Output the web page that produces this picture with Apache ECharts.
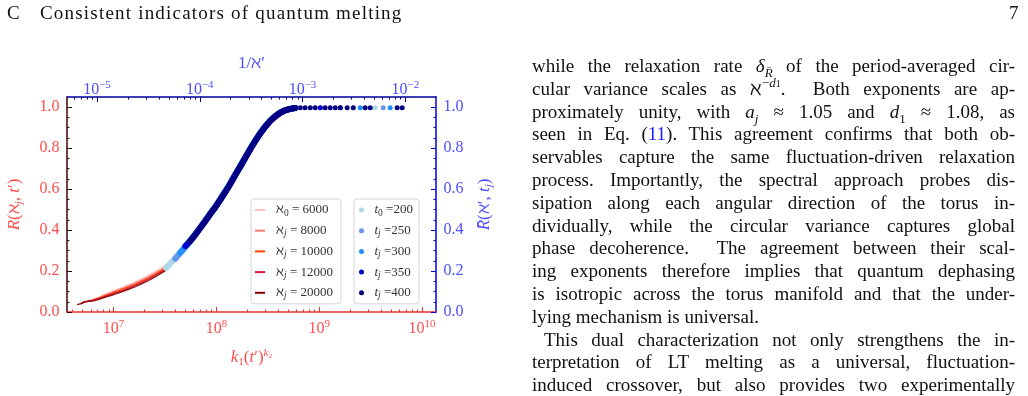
<!DOCTYPE html>
<html>
<head>
<meta charset="utf-8">
<script src="https://cdn.jsdelivr.net/npm/echarts@6/dist/echarts.min.js"></script>
<style>
html,body{margin:0;padding:0;background:#fff;}
#main{position:absolute;left:0;top:0;width:1028px;height:396px;}
.pg{position:absolute;font-family:"Liberation Serif",serif;font-size:19px;color:#111;line-height:23px;white-space:nowrap;}
.txt{position:absolute;left:532px;top:55px;width:483px;font-family:"Liberation Serif",serif;font-size:19px;color:#111;line-height:22.8px;}
.txt div{text-align:justify;text-align-last:justify;height:22.8px;}
.txt div.last{text-align-last:left;}
.txt sub,.txt sup{font-size:13px;line-height:0;}
</style>
</head>
<body>
<div id="main"></div>
<div class="pg" style="left:7px;top:1px;">C</div>
<div class="pg" style="left:40px;top:1px;letter-spacing:1.2px;">Consistent indicators of quantum melting</div>
<div class="pg" style="left:1009px;top:1px;">7</div>
<div class="txt">
<div>while the relaxation rate <i>δ</i><sub><i>R̄</i></sub> of the period-averaged cir-</div>
<div>cular variance scales as ℵ<sup>−<i>d</i><span style="font-size:10px">1</span></sup>.&nbsp; Both exponents are ap-</div>
<div>proximately unity, with <i>a<sub>j</sub></i> ≈ 1.05 and <i>d</i><sub>1</sub> ≈ 1.08, as</div>
<div>seen in Eq. (<span style="color:#1a1aff">11</span>). This agreement confirms that both ob-</div>
<div>servables capture the same fluctuation-driven relaxation</div>
<div>process. Importantly, the spectral approach probes dis-</div>
<div>sipation along each angular direction of the torus in-</div>
<div>dividually, while the circular variance captures global</div>
<div>phase decoherence.&nbsp; The agreement between their scal-</div>
<div>ing exponents therefore implies that quantum dephasing</div>
<div>is isotropic across the torus manifold and that the under-</div>
<div class="last">lying mechanism is universal.</div>
<div style="padding-left:12px">This dual characterization not only strengthens the in-</div>
<div>terpretation of LT melting as a universal, fluctuation-</div>
<div>induced crossover, but also provides two experimentally</div>
</div>
<script>
// axis ranges (log10 units) and tick labels
const bottomMin = 6.547, bottomMax = 10.136;
const topMin = -5.292, topMax = -1.701;
const bottomTicks = [7, 8, 9, 10];
const topTicks = [-5, -4, -3, -2];
const yTicks = [0, 0.2, 0.4, 0.6, 0.8, 1.0];
const yMinorTicks = [0.05,0.1,0.15,0.25,0.3,0.35,0.45,0.5,0.55,0.65,0.7,0.75,0.85,0.9,0.95];

// red curves: R(aleph_j, t') against k1 (t')^k2
const alephSub = ['0', 'j', 'j', 'j', 'j'];
const alephVals = [6000, 8000, 10000, 12000, 20000];
const kx6000 = [7.6e6, 8.5e6, 9.6e6, 1.09e7, 1.24e7, 1.42e7, 1.63e7, 1.87e7, 2.15e7, 2.48e7, 2.86e7, 3.3e7];
const r6000 = [0.079,0.089,0.100,0.111,0.122,0.134,0.148,0.162,0.178,0.195,0.213,0.232];
const kx8000 = [6.2e6, 6.8e6, 7.6e6, 8.5e6, 9.6e6, 1.09e7, 1.24e7, 1.42e7, 1.63e7, 1.87e7, 2.15e7, 2.48e7, 2.86e7, 3.3e7];
const r8000 = [0.059,0.066,0.075,0.085,0.095,0.106,0.116,0.128,0.141,0.155,0.170,0.187,0.205,0.225];
const kx10000 = [5.7e6, 6.2e6, 6.8e6, 7.6e6, 8.5e6, 9.6e6, 1.09e7, 1.24e7, 1.42e7, 1.63e7, 1.87e7, 2.15e7, 2.48e7, 2.86e7, 3.3e7];
const r10000 = [0.055,0.058,0.064,0.072,0.082,0.091,0.102,0.112,0.123,0.136,0.150,0.164,0.181,0.199,0.219];
const kx12000 = [4.8e6, 5.2e6, 5.7e6, 6.2e6, 6.8e6, 7.6e6, 8.5e6, 9.6e6, 1.09e7, 1.24e7, 1.42e7, 1.63e7, 1.87e7, 2.15e7, 2.48e7, 2.86e7, 3.3e7];
const r12000 = [0.041,0.050,0.053,0.056,0.061,0.069,0.078,0.087,0.097,0.107,0.118,0.131,0.145,0.159,0.176,0.194,0.214];
const kx20000 = [4.4e6, 4.8e6, 5.2e6, 5.7e6, 6.2e6, 6.8e6, 7.6e6, 8.5e6, 9.6e6, 1.09e7, 1.24e7, 1.42e7, 1.63e7, 1.87e7, 2.15e7, 2.48e7, 2.86e7, 3.3e7];
const r20000 = [0.036,0.040,0.049,0.052,0.054,0.058,0.066,0.074,0.082,0.092,0.101,0.112,0.124,0.138,0.152,0.169,0.187,0.207];

// blue points: Rbar(aleph', t_j) against 1/aleph'
const tSub = ['0', 'j', 'j', 'j', 'j'];
const tVals = [200, 250, 300, 350, 400];
const invAleph = [4.72e-5, 5.16e-5, 5.78e-5, 6.46e-5, 7.23e-5, 8.09e-5, 9.04e-5, 1.01e-4, 1.13e-4, 1.26e-4, 1.42e-4, 1.58e-4, 1.77e-4, 1.98e-4, 2.21e-4, 2.48e-4, 2.77e-4, 3.10e-4, 3.47e-4, 3.88e-4, 4.34e-4, 4.85e-4, 5.42e-4, 6.07e-4, 6.79e-4, 7.59e-4, 8.49e-4];
const rbar200 = [0.215,0.237,0.264,0.293,0.322,0.352,0.383,0.415,0.449,0.483,0.518,0.553,0.591,0.631,0.674,0.716,0.758,0.801,0.841,0.877,0.909,0.937,0.958,0.975,0.986,0.993,0.997];
const rbar250 = [null,null,0.260,0.288,0.316,0.346,0.378,0.411,0.445,0.480,0.515,0.551,0.590,0.630,0.672,0.714,0.757,0.799,0.839,0.876,0.908,0.936,0.957,0.974,0.986,0.992,0.996];
const rbar300 = [null,null,null,0.290,0.318,0.347,0.378,0.410,0.444,0.478,0.513,0.548,0.587,0.627,0.669,0.711,0.753,0.796,0.836,0.873,0.906,0.934,0.956,0.973,0.985,0.992,0.996];
const rbar350 = [null,null,null,null,0.322,0.347,0.378,0.410,0.443,0.477,0.512,0.547,0.585,0.625,0.668,0.710,0.752,0.795,0.835,0.872,0.905,0.933,0.955,0.973,0.985,0.992,0.996];
const rbar400 = [null,null,null,null,null,0.347,0.378,0.410,0.443,0.477,0.512,0.547,0.585,0.625,0.668,0.710,0.752,0.795,0.835,0.872,0.905,0.933,0.955,0.973,0.985,0.992,0.996];
// plateau dots
const dotX200 = [1.49e-3, 5.10e-3];
const dotR200 = [0.998, 0.998];
const dotX250 = [6.10e-3];
const dotR250 = [0.998];
const dotX300 = [3.64e-3, 7.13e-3];
const dotR300 = [0.998, 0.998];
const dotX350 = [1.49e-3, 2.33e-3];
const dotR350 = [0.998, 0.998];
const dotX400 = [9.50e-4, 1.06e-3, 1.19e-3, 1.33e-3, 1.66e-3, 1.86e-3, 2.08e-3, 2.33e-3, 2.72e-3, 3.12e-3, 4.07e-3, 4.56e-3, 8.34e-3, 9.33e-3];
const dotR400 = [0.997, 0.998, 0.998, 0.998, 0.998, 0.998, 0.998, 0.998, 0.998, 0.998, 0.998, 0.998, 0.998, 0.998];

const serif = 'Liberation Serif';
const red = '#ff4d4d', blue = '#4d4dff';
const redColors = ['#ffc0c4', '#fa8072', '#ff4500', '#dc143c', '#8b0000'];
const blueColors = ['#add8e6', '#6495ed', '#1e90ff', '#0000cd', '#000080'];

function pairs(xs, ys) {
  const out = [];
  for (let i = 0; i < xs.length; i++) {
    if (ys[i] != null) out.push([Math.log10(xs[i]), ys[i]]);
  }
  return out;
}

function minorLog(lo, hi) {
  const v = [];
  for (let n = Math.floor(lo); n <= Math.ceil(hi); n++) {
    for (let k = 2; k <= 9; k++) {
      const l = n + Math.log10(k);
      if (l > lo && l < hi) v.push(l);
    }
  }
  return v;
}

function powRich(color) {
  return {
    b: {fontFamily: serif, fontSize: 16, lineHeight: 20, color: color},
    s: {fontFamily: serif, fontSize: 11, lineHeight: 11, verticalAlign: 'top', color: color}
  };
}

const redNames = alephVals.map((v, i) => 'ℵ_' + alephSub[i] + ' = ' + v);
const blueNames = tVals.map((v, i) => 't_' + tSub[i] + ' =' + v);
const redX = [kx6000, kx8000, kx10000, kx12000, kx20000];
const redR = [r6000, r8000, r10000, r12000, r20000];
const blueR = [rbar200, rbar250, rbar300, rbar350, rbar400];
const dotXs = [dotX200, dotX250, dotX300, dotX350, dotX400];
const dotRs = [dotR200, dotR250, dotR300, dotR350, dotR400];

const series = [];
redNames.forEach((name, i) => {
  series.push({
    name: name, type: 'line', xAxisIndex: 0, yAxisIndex: 0,
    showSymbol: false, silent: true,
    lineStyle: {color: redColors[i], width: 1.5, opacity: 0.9},
    itemStyle: {color: redColors[i]},
    data: pairs(redX[i], redR[i])
  });
});
blueNames.forEach((name, i) => {
  series.push({
    name: name, type: 'line', xAxisIndex: 1, yAxisIndex: 1,
    showSymbol: false, silent: true,
    lineStyle: {color: blueColors[i], width: 6, cap: 'round', join: 'round'},
    itemStyle: {color: blueColors[i]},
    data: pairs(invAleph, blueR[i])
  });
  series.push({
    name: name, type: 'scatter', xAxisIndex: 1, yAxisIndex: 1,
    symbolSize: 5, silent: true,
    itemStyle: {color: blueColors[i], opacity: 1},
    data: pairs(dotXs[i], dotRs[i])
  });
});

const legendRich = {
  g6: {width: 6}, g3: {width: 3},
  i: {fontFamily: serif, fontSize: 13, fontStyle: 'italic', lineHeight: 16, color: '#333'},
  s0: {fontFamily: serif, fontSize: 9.5, lineHeight: 10, verticalAlign: 'bottom', color: '#333'},
  sj: {fontFamily: serif, fontSize: 9.5, fontStyle: 'italic', lineHeight: 10, verticalAlign: 'bottom', color: '#333'}
};
function legendText(name) {
  const m = name.match(/^(ℵ|t)_(\w)(.*)$/);
  const head = m[1] === 't' ? '{g3| }{i|t}' : '{g6| }ℵ';
  const sub = m[2] === 'j' ? '{sj|j}' : '{s0|0}';
  return head + sub + m[3];
}
const legendBase = {
  orient: 'vertical', top: 199,
  backgroundColor: 'rgba(255,255,255,0.85)', borderColor: '#d4d4d4', borderWidth: 1, borderRadius: 3,
  itemGap: 4.7, selectedMode: false,
  formatter: legendText,
  textStyle: {fontFamily: serif, fontSize: 13, lineHeight: 16, color: '#333', rich: legendRich}
};

function xAxisMain(pos, min, max, ticks, color, lineColor, fmt, margin) {
  return {
    type: 'value', position: pos, min: min, max: max,
    axisLine: {show: true, onZero: false, lineStyle: {color: lineColor, width: 1.5}},
    axisTick: {show: true, inside: true, length: 5, customValues: ticks, lineStyle: {color: lineColor}},
    axisLabel: {show: true, customValues: ticks, margin: margin, formatter: fmt, rich: powRich(color)},
    splitLine: {show: false}
  };
}
function xAxisMinor(pos, min, max, lineColor) {
  return {
    type: 'value', position: pos, min: min, max: max,
    axisLine: {show: false, onZero: false},
    axisTick: {show: true, inside: true, length: 2.5, customValues: minorLog(min, max), lineStyle: {color: lineColor}},
    axisLabel: {show: false},
    splitLine: {show: false}
  };
}
function yAxisMain(pos, color, lineColor) {
  return {
    type: 'value', position: pos, min: 0, max: 1.05,
    axisLine: {show: true, onZero: false, lineStyle: {color: lineColor, width: 1.5}},
    axisTick: {show: true, inside: true, length: 5, customValues: yTicks, lineStyle: {color: lineColor}},
    axisLabel: {show: true, customValues: yTicks, margin: 7.5, formatter: v => v.toFixed(1),
      fontFamily: serif, fontSize: 16, color: color},
    splitLine: {show: false}
  };
}
function yAxisMinor(pos, lineColor) {
  return {
    type: 'value', position: pos, min: 0, max: 1.05,
    axisLine: {show: false, onZero: false},
    axisTick: {show: true, inside: true, length: 2.5, customValues: yMinorTicks, lineStyle: {color: lineColor}},
    axisLabel: {show: false},
    splitLine: {show: false}
  };
}

const xBottom = xAxisMain('bottom', bottomMin, bottomMax, bottomTicks, red, '#e8302f',
  v => '{b|10}{s|' + v + '}', 7);
xBottom.name = '{i|k}{sb|1}({i|t}′){sp|k₂}';
xBottom.nameLocation = 'middle';
xBottom.nameGap = 36;
xBottom.nameTextStyle = {fontFamily: serif, fontSize: 17, color: red, lineHeight: 20, rich: {
  i: {fontFamily: serif, fontSize: 17, fontStyle: 'italic', color: red, lineHeight: 20},
  sb: {fontFamily: serif, fontSize: 11, color: red, lineHeight: 12, verticalAlign: 'bottom'},
  sp: {fontFamily: serif, fontSize: 11, fontStyle: 'italic', color: red, lineHeight: 11, verticalAlign: 'top'}
}};

const xTop = xAxisMain('top', topMin, topMax, topTicks, blue, '#00009a',
  v => '{b|10}{s|−' + (-v) + '}', -3);
xTop.name = '1/ℵ′';
xTop.nameLocation = 'middle';
xTop.nameGap = 25;
xTop.nameTextStyle = {fontFamily: serif, fontSize: 17, color: blue};

const yLeft = yAxisMain('left', red, '#3a0505');
yLeft.name = '{i|R}(ℵ{s|j}, {i|t}′)';
yLeft.nameLocation = 'middle';
yLeft.nameRotate = 90;
yLeft.nameGap = 42;
yLeft.nameTextStyle = {fontFamily: serif, fontSize: 17, color: red, lineHeight: 20, rich: {
  i: {fontFamily: serif, fontSize: 17, fontStyle: 'italic', color: red, lineHeight: 20},
  s: {fontFamily: serif, fontSize: 11, fontStyle: 'italic', color: red, lineHeight: 12, verticalAlign: 'bottom'}
}};

const yRight = yAxisMain('right', blue, '#0000dd');
yRight.name = '{i|R̄}(ℵ′, {i|t}{s|j})';
yRight.nameLocation = 'middle';
yRight.nameRotate = 90;
yRight.nameGap = 39;
yRight.nameTextStyle = {fontFamily: serif, fontSize: 17, color: blue, lineHeight: 20, rich: {
  i: {fontFamily: serif, fontSize: 17, fontStyle: 'italic', color: blue, lineHeight: 20},
  s: {fontFamily: serif, fontSize: 11, fontStyle: 'italic', color: blue, lineHeight: 12, verticalAlign: 'bottom'}
}};

const chart = echarts.init(document.getElementById('main'));
chart.setOption({
  animation: false,
  grid: {left: 67, top: 97, width: 369, height: 215, outerBoundsMode: 'none', containLabel: false},
  xAxis: [xBottom, xTop, xAxisMinor('bottom', bottomMin, bottomMax, '#e8302f'), xAxisMinor('top', topMin, topMax, '#00009a')],
  yAxis: [yLeft, yRight, yAxisMinor('left', '#3a0505'), yAxisMinor('right', '#0000dd')],
  legend: [
    Object.assign({}, legendBase, {left: 251, data: redNames, icon: 'rect', itemWidth: 10, itemHeight: 2,
      padding: [3, 8, 3, 4]}),
    Object.assign({}, legendBase, {left: 354, data: blueNames, icon: 'circle', itemWidth: 10, itemHeight: 5,
      padding: [3, 6, 3, 5]})
  ],
  series: series
});
</script>
</body>
</html>
